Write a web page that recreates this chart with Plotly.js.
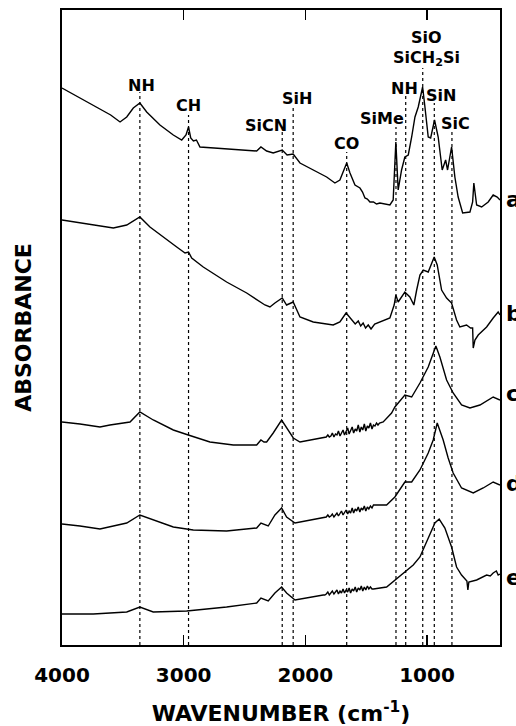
<!DOCTYPE html>
<html>
<head>
<meta charset="utf-8">
<script src="https://cdn.plot.ly/plotly-3.0.1.min.js"></script>
<style>
  html, body { margin: 0; padding: 0; background: #fff; }
  #chart { width: 516px; height: 726px; }
</style>
</head>
<body>
<div id="chart"></div>
<script>
// FTIR absorbance spectra (a–e), offset vertically, wavenumber axis reversed.

const wnA = [4000,3743,3600,3523,3468,3414,3360,3304,3195,3085,3016,2981,2960,2942,2920,2895,2866,2750,2647,2400,2365,2318,2264,2190,2150,2100,2044,1935,1825,1757,1716,1660,1633,1592,1551,1530,1510,1490,1469,1440,1415,1387,1350,1305,1278,1256,1237,1209,1182,1154,1126,1099,1072,1036,1017,990,970,938,908,875,847,831,798,771,744,707,647,625,615,592,551,497,456,423,400];
const absA = [5.57,5.40,5.30,5.23,5.28,5.37,5.42,5.33,5.20,5.10,5.05,5.10,5.18,5.07,5.04,5.05,4.98,4.97,4.96,4.94,4.98,4.94,4.92,4.95,4.90,4.91,4.82,4.75,4.68,4.62,4.65,4.82,4.72,4.60,4.57,4.53,4.47,4.46,4.43,4.43,4.41,4.42,4.41,4.40,4.45,5.03,4.55,4.75,4.88,4.90,5.08,5.28,5.38,5.58,5.38,5.08,5.07,5.25,5.08,4.75,4.85,4.75,4.98,4.68,4.48,4.32,4.33,4.43,4.62,4.40,4.38,4.43,4.50,4.48,4.45];

const wnB = [4000,3743,3578,3468,3360,3277,3140,3057,2989,2960,2934,2839,2647,2482,2332,2291,2250,2190,2154,2100,2044,1935,1771,1716,1665,1633,1590,1565,1545,1525,1505,1483,1460,1430,1387,1305,1270,1256,1237,1182,1141,1108,1085,1058,1031,990,941,916,880,839,798,757,730,675,642,625,620,606,579,510,456,415,400];
const absB = [4.25,4.20,4.17,4.20,4.28,4.18,4.05,3.98,3.92,3.93,3.87,3.78,3.63,3.52,3.40,3.38,3.42,3.47,3.40,3.43,3.28,3.23,3.20,3.23,3.32,3.27,3.21,3.24,3.19,3.22,3.17,3.20,3.16,3.21,3.23,3.27,3.40,3.50,3.43,3.53,3.48,3.40,3.55,3.70,3.75,3.73,3.88,3.80,3.55,3.47,3.42,3.25,3.18,3.20,3.17,3.17,2.97,3.05,3.10,3.18,3.27,3.33,3.30];

const wnC = [4000,3852,3688,3606,3441,3360,3250,3085,2962,2784,2592,2400,2365,2340,2318,2264,2195,2127,2099,2044,1853,1840,1828,1815,1803,1790,1778,1765,1752,1740,1728,1715,1703,1690,1678,1665,1652,1640,1628,1615,1603,1590,1578,1565,1552,1540,1528,1515,1503,1490,1478,1465,1452,1440,1428,1415,1403,1390,1360,1291,1264,1182,1126,1058,990,927,894,839,785,716,647,565,456,407,400];
const absC = [2.23,2.21,2.18,2.20,2.23,2.33,2.25,2.15,2.10,2.03,2.00,2.00,2.05,2.03,2.03,2.12,2.25,2.13,2.07,2.03,2.07,2.07,2.08,2.10,2.08,2.09,2.12,2.08,2.11,2.10,2.14,2.09,2.12,2.15,2.10,2.13,2.17,2.11,2.14,2.18,2.12,2.16,2.14,2.20,2.13,2.18,2.15,2.21,2.14,2.19,2.17,2.22,2.16,2.20,2.19,2.22,2.20,2.22,2.23,2.32,2.38,2.50,2.48,2.62,2.78,2.99,2.88,2.65,2.52,2.40,2.37,2.40,2.48,2.45,2.45];

const wnD = [4000,3852,3688,3468,3360,3250,3085,2921,2647,2400,2365,2305,2250,2195,2154,2085,1853,1840,1828,1815,1803,1790,1778,1765,1752,1740,1728,1715,1703,1690,1678,1665,1652,1640,1628,1615,1603,1590,1578,1565,1552,1540,1528,1515,1503,1490,1478,1465,1452,1440,1332,1264,1182,1126,1058,990,949,916,867,826,785,716,620,538,456,407,400];
const absD = [1.21,1.19,1.16,1.22,1.30,1.25,1.18,1.15,1.14,1.17,1.22,1.19,1.30,1.37,1.28,1.22,1.27,1.27,1.28,1.30,1.28,1.29,1.31,1.28,1.30,1.32,1.29,1.31,1.34,1.30,1.33,1.35,1.31,1.34,1.32,1.37,1.32,1.36,1.34,1.38,1.33,1.37,1.35,1.39,1.34,1.38,1.36,1.39,1.37,1.40,1.40,1.48,1.63,1.63,1.75,1.92,2.05,2.22,2.05,1.87,1.72,1.57,1.52,1.57,1.63,1.60,1.60];

const wnE = [4000,3743,3468,3360,3250,2975,2647,2400,2365,2305,2250,2195,2154,2085,1853,1840,1828,1815,1803,1790,1778,1765,1752,1740,1728,1715,1703,1690,1678,1665,1652,1640,1628,1615,1603,1590,1578,1565,1552,1540,1528,1515,1503,1490,1478,1465,1452,1440,1332,1264,1182,1113,1058,990,935,900,853,798,757,716,672,664,656,592,510,480,456,430,415,400];
const absE = [0.31,0.31,0.33,0.38,0.33,0.34,0.38,0.42,0.47,0.44,0.52,0.58,0.52,0.45,0.50,0.50,0.51,0.53,0.50,0.52,0.54,0.51,0.53,0.55,0.51,0.54,0.52,0.56,0.52,0.55,0.53,0.57,0.52,0.56,0.54,0.58,0.53,0.57,0.55,0.59,0.54,0.58,0.55,0.59,0.56,0.58,0.56,0.56,0.58,0.65,0.73,0.80,0.88,1.07,1.22,1.26,1.17,0.98,0.78,0.70,0.64,0.55,0.63,0.65,0.70,0.69,0.72,0.74,0.70,0.71];

const seriesNames = ['a','b','c','d','e'];
const seriesX = [wnA, wnB, wnC, wnD, wnE];
const seriesY = [absA, absB, absC, absD, absE];

// Band assignments and their wavenumbers (cm-1)
const bandNames = ['NH','CH','SiCN','SiH','CO','SiMe','NH','SiCH<sub>2</sub>Si','SiN','SiC'];
const bandPos   = [3360, 2960, 2190, 2100, 1660, 1255, 1175, 1035, 940, 795];

// Placement of the band labels: marker-line top, label height, horizontal nudge (px)
const bandLineTop = [5.53, 5.30, 5.15, 5.38, 4.93, 5.18, 5.50, 5.77, 5.42, 5.15];
const bandLabelY  = [5.60, 5.40, 5.20, 5.47, 5.02, 5.27, 5.57, 5.87, 5.50, 5.22];
const bandShift   = [2, 0, -16, 4, 0, -14, -1, 4, 7, 4];

const FONT = 'DejaVu Sans, Arial, sans-serif';

const traces = seriesNames.map((n, i) => ({
  type: 'scatter', mode: 'lines', name: n,
  x: seriesX[i], y: seriesY[i],
  line: { color: '#000', width: 1.4 },
  hoverinfo: 'skip', showlegend: false
}));

const shapes = bandPos.map((p, i) => ({
  type: 'line', xref: 'x', yref: 'y', layer: 'below',
  x0: p, x1: p, y0: 0, y1: bandLineTop[i],
  line: { color: '#000', width: 1.2, dash: 'dot' }
}));

const annotations = bandNames.map((t, i) => ({
  text: t, xref: 'x', yref: 'y', x: bandPos[i], y: bandLabelY[i],
  xshift: bandShift[i], showarrow: false, xanchor: 'center', yanchor: 'middle',
  font: { family: FONT, size: 16, weight: 'bold', color: '#000' }
}));
// Second label sharing the Si–O–Si / Si–CH2–Si line
annotations.push({
  text: 'SiO', xref: 'x', yref: 'y', x: 1035, y: 6.08, xshift: 4,
  showarrow: false, xanchor: 'center', yanchor: 'middle',
  font: { family: FONT, size: 16, weight: 'bold', color: '#000' }
});

// Curve letters at the right edge
const letterY = [4.46, 3.32, 2.52, 1.62, 0.68];
seriesNames.forEach((n, i) => annotations.push({
  text: n, xref: 'paper', yref: 'y', x: 1, xshift: 4, y: letterY[i],
  showarrow: false, xanchor: 'left', yanchor: 'middle',
  font: { family: FONT, size: 22, weight: 'bold', color: '#000' }
}));

const layout = {
  width: 516, height: 726,
  margin: { l: 62, r: 16, t: 10, b: 81 },
  paper_bgcolor: '#fff', plot_bgcolor: '#fff',
  showlegend: false,
  xaxis: {
    range: [4000, 400], tickvals: [4000, 3000, 2000, 1000],
    ticks: 'inside', ticklen: 10, tickwidth: 1.5, tickcolor: '#000',
    ticklabelstandoff: 11,
    showline: true, linewidth: 2, linecolor: '#000', mirror: 'ticks',
    showgrid: false, zeroline: false,
    tickfont: { family: FONT, size: 20, weight: 'bold', color: '#000' },
    title: { text: 'WAVENUMBER (cm<sup>-1</sup>)', standoff: 23,
             font: { family: FONT, size: 22, weight: 'bold', color: '#000' } }
  },
  yaxis: {
    range: [0, 6.35], showticklabels: false, ticks: '',
    showline: true, linewidth: 2, linecolor: '#000', mirror: true,
    showgrid: false, zeroline: false,
    title: { text: 'ABSORBANCE', standoff: 22,
             font: { family: FONT, size: 22, weight: 'bold', color: '#000' } }
  },
  shapes: shapes,
  annotations: annotations
};

Plotly.newPlot('chart', traces, layout, { staticPlot: true, displayModeBar: false });
</script>
</body>
</html>
